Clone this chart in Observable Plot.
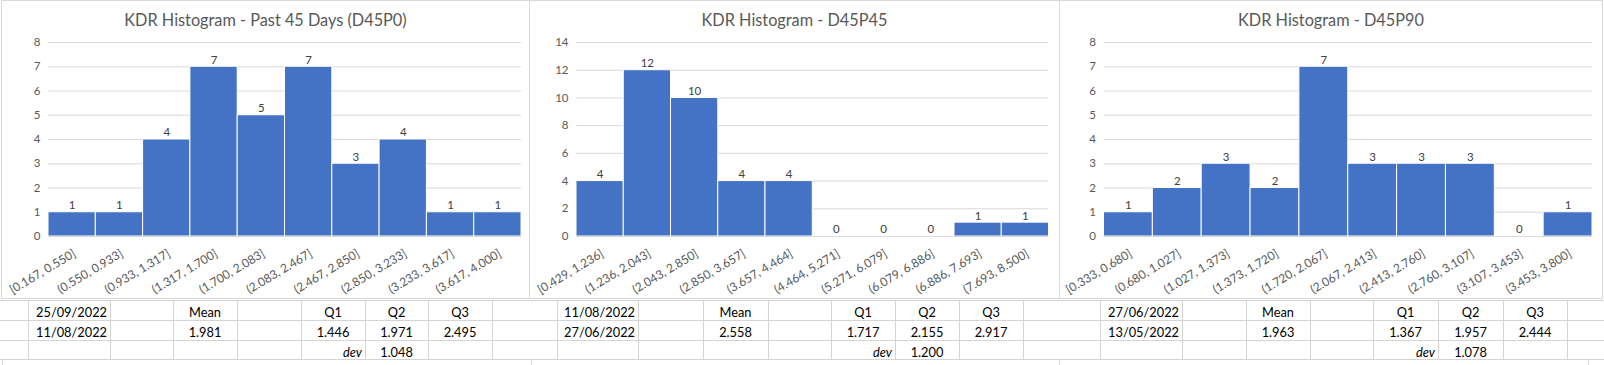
<!DOCTYPE html>
<html><head><meta charset="utf-8">
<script src="https://cdn.jsdelivr.net/npm/d3@7"></script>
<script src="https://cdn.jsdelivr.net/npm/@observablehq/plot@0.6"></script>
<style>
html,body{margin:0;padding:0;background:#fff;}
#root{position:relative;width:1604px;height:365px;overflow:hidden;background:#fff;}
#root svg{position:absolute;top:0;max-width:none;}
</style></head><body><div id="root"></div>
<script>
// ---- chart data ----
const titles = ["KDR Histogram - Past 45 Days (D45P0)", "KDR Histogram - D45P45", "KDR Histogram - D45P90"];
const binsP0 = ["[0.167, 0.550]", "(0.550, 0.933]", "(0.933, 1.317]", "(1.317, 1.700]", "(1.700, 2.083]", "(2.083, 2.467]", "(2.467, 2.850]", "(2.850, 3.233]", "(3.233, 3.617]", "(3.617, 4.000]"];
const countsP0 = [1, 1, 4, 7, 5, 7, 3, 4, 1, 1];
const ticksP0 = [0, 1, 2, 3, 4, 5, 6, 7, 8];
const binsP45 = ["[0.429, 1.236]", "(1.236, 2.043]", "(2.043, 2.850]", "(2.850, 3.657]", "(3.657, 4.464]", "(4.464, 5.271]", "(5.271, 6.079]", "(6.079, 6.886]", "(6.886, 7.693]", "(7.693, 8.500]"];
const countsP45 = [4, 12, 10, 4, 4, 0, 0, 0, 1, 1];
const ticksP45 = [0, 2, 4, 6, 8, 10, 12, 14];
const binsP90 = ["[0.333, 0.680]", "(0.680, 1.027]", "(1.027, 1.373]", "(1.373, 1.720]", "(1.720, 2.067]", "(2.067, 2.413]", "(2.413, 2.760]", "(2.760, 3.107]", "(3.107, 3.453]", "(3.453, 3.800]"];
const countsP90 = [1, 2, 3, 2, 7, 3, 3, 3, 0, 1];
const ticksP90 = [0, 1, 2, 3, 4, 5, 6, 7, 8];

// ---- table data ----
const statHeaders = ["Mean", "Q1", "Q2", "Q3"];
const devLabel = "dev";
const dateFrom = ["25/09/2022", "11/08/2022", "27/06/2022"];
const dateTo = ["11/08/2022", "27/06/2022", "13/05/2022"];
const means = ["1.981", "2.558", "1.963"];
const q1s = ["1.446", "1.717", "1.367"];
const q2s = ["1.971", "2.155", "1.957"];
const q3s = ["2.495", "2.917", "2.444"];
const devs = ["1.048", "1.200", "1.078"];

const FONT = "Lato, 'Open Sans', sans-serif";
const root = document.getElementById("root");

// ---- background: spreadsheet grid, panel borders, titles, table text ----
const bg = d3.select(root).append("svg").attr("width", 1604).attr("height", 365)
  .style("left", "0px").style("font-family", FONT);
const gridColor = "#d4d4d4";
const colLines = [28, 110, 173, 237, 301, 365, 428, 492, 557, 638, 703, 768, 831, 895, 959, 1023, 1100, 1182, 1246, 1310, 1373, 1438, 1503, 1567];
[300, 320, 340, 359].forEach(y => bg.append("line").attr("x1", 0).attr("x2", 1604).attr("y1", y + 0.5).attr("y2", y + 0.5).attr("stroke", gridColor));
colLines.forEach(x => bg.append("line").attr("x1", x + 0.5).attr("x2", x + 0.5).attr("y1", 300).attr("y2", 359).attr("stroke", gridColor));
[2, 531, 1059, 1588].forEach(x => bg.append("line").attr("x1", x + 0.5).attr("x2", x + 0.5).attr("y1", 359).attr("y2", 365).attr("stroke", "#d9d9d9"));

const panels = [
  {left: 1, width: 529, ml: 47, mr: 9, bins: binsP0, counts: countsP0, ticks: ticksP0},
  {left: 529, width: 531, ml: 47, mr: 11.5, bins: binsP45, counts: countsP45, ticks: ticksP45},
  {left: 1059, width: 544, ml: 44.5, mr: 11, bins: binsP90, counts: countsP90, ticks: ticksP90}
];
panels.forEach((p, i) => {
  bg.append("rect").attr("x", p.left + 0.5).attr("y", 0.5).attr("width", p.width - 1).attr("height", 298)
    .attr("fill", "#fff").attr("stroke", "#d9d9d9");
  bg.append("text").attr("x", p.left + p.width / 2).attr("y", 26).attr("text-anchor", "middle")
    .attr("font-size", 16.3).attr("fill", "#595959").text(titles[i]);
});

// table text
const groups = [
  {date: [28, 110], mean: [173, 237], q1: [301, 365], q2: [365, 428], q3: [428, 492]},
  {date: [557, 638], mean: [703, 768], q1: [831, 895], q2: [895, 959], q3: [959, 1023]},
  {date: [1100, 1182], mean: [1246, 1310], q1: [1373, 1438], q2: [1438, 1503], q3: [1503, 1567]}
];
const rowBase = [316.5, 336.5, 356.5];
const tt = (x, y, s, anchor, italic) => bg.append("text").attr("x", x).attr("y", y)
  .attr("text-anchor", anchor).attr("font-size", 12.8).attr("fill", "#000")
  .attr("font-style", italic ? "italic" : null).text(s);
const mid = c => (c[0] + c[1]) / 2;
groups.forEach((g, i) => {
  tt(g.date[1] - 3, rowBase[0], dateFrom[i], "end");
  tt(g.date[1] - 3, rowBase[1], dateTo[i], "end");
  tt(mid(g.mean), rowBase[0], statHeaders[0], "middle");
  tt(mid(g.q1), rowBase[0], statHeaders[1], "middle");
  tt(mid(g.q2), rowBase[0], statHeaders[2], "middle");
  tt(mid(g.q3), rowBase[0], statHeaders[3], "middle");
  tt(mid(g.mean), rowBase[1], means[i], "middle");
  tt(mid(g.q1), rowBase[1], q1s[i], "middle");
  tt(mid(g.q2), rowBase[1], q2s[i], "middle");
  tt(mid(g.q3), rowBase[1], q3s[i], "middle");
  tt(g.q1[1] - 3, rowBase[2], devLabel, "end", true);
  tt(mid(g.q2), rowBase[2], devs[i], "middle");
});

// ---- the three histograms ----
panels.forEach(p => {
  const rows = p.bins.map((b, i) => ({bin: b, count: p.counts[i]}));
  const svg = Plot.plot({
    width: p.width,
    height: 299,
    marginLeft: p.ml,
    marginRight: p.mr,
    marginTop: 42,
    marginBottom: 63,
    style: {fontFamily: FONT, fontSize: "11.5px", background: "transparent", overflow: "visible"},
    x: {type: "band", domain: p.bins, padding: 0, round: false, label: null},
    y: {domain: [0, p.ticks[p.ticks.length - 1]], label: null},
    marks: [
      Plot.gridY(p.ticks, {stroke: "#d9d9d9", strokeOpacity: 1, strokeWidth: 1}),
      Plot.barY(rows.filter(d => d.count > 0), {x: "bin", y: "count", fill: "#4472C4", stroke: "#ffffff", strokeWidth: 1}),
      Plot.ruleY([0], {stroke: "#d9d9d9", strokeWidth: 1}),
      Plot.axisY(p.ticks, {tickSize: 0, tickPadding: 8, color: "#595959", fontSize: 11.5, label: null}),
      Plot.axisX({tickSize: 0, tickRotate: -31, tickPadding: 12, textAnchor: "end", lineAnchor: "top", color: "#595959", fontSize: 12, label: null}),
      Plot.text(rows, {x: "bin", y: "count", text: d => String(d.count), dy: -6.8, fill: "#404040", fontSize: 11.5})
    ]
  });
  svg.style.position = "absolute";
  svg.style.left = p.left + "px";
  svg.style.top = "0px";
  root.appendChild(svg);
});
</script></body></html>
